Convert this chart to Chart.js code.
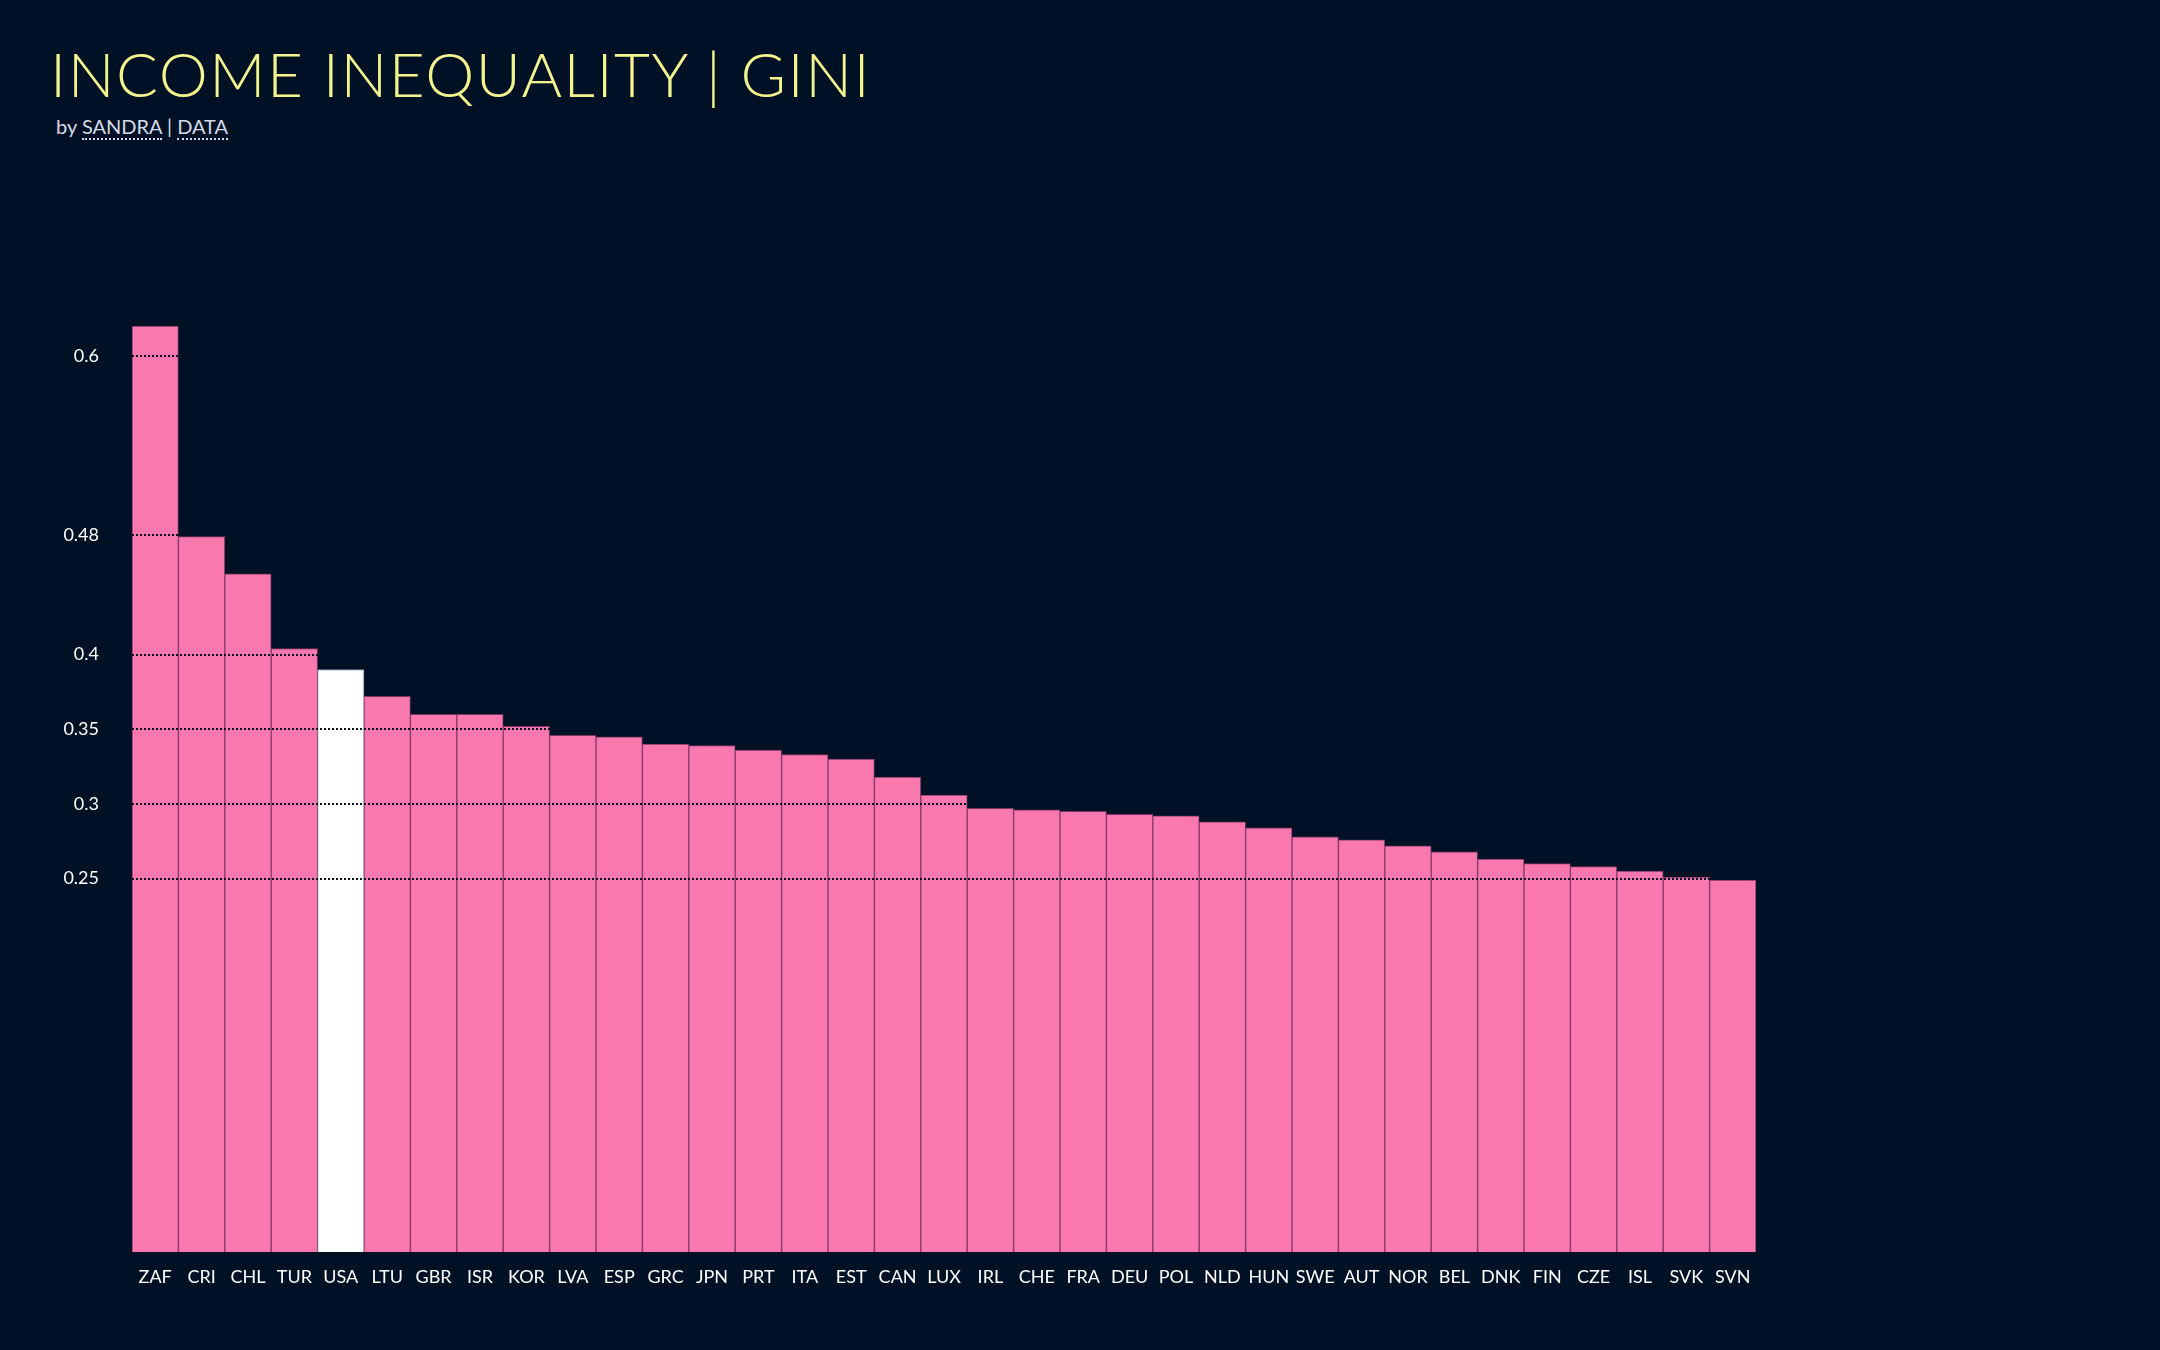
<!DOCTYPE html>
<html>
<head>
<meta charset="utf-8">
<script src="https://cdn.jsdelivr.net/npm/chart.js@4"></script>
<style>
    html, body { margin: 0; padding: 0; background: #001126; }
    body { width: 2160px; height: 1350px; position: relative; overflow: hidden; font-family: Lato, "Open Sans", sans-serif; }
    #titulo { position: absolute; left: 50px; top: 36px; margin: 0; color: #f4f48e; font-size: 62px; font-weight: 300; letter-spacing: 1.5px; white-space: nowrap; }
    #subtitulo { position: absolute; left: 56px; top: 114px; color: #d5dae6; font-size: 20px; white-space: nowrap; }
    #subtitulo span { border-bottom: 2px dotted #d5dae6; }
    #contenedor { position: absolute; left: 0; top: 0; width: 2160px; height: 1350px; }
</style>
</head>
<body>
<h1 id="titulo">INCOME INEQUALITY | GINI</h1>
<div id="subtitulo">by <span>SANDRA</span> | <span>DATA</span></div>
<div id="contenedor"><canvas id="giniChart"></canvas></div>

<script>
// Datos
const paises = ['ZAF', 'CRI', 'CHL', 'TUR', 'USA', 'LTU', 'GBR', 'ISR', 'KOR', 'LVA', 'ESP', 'GRC',
    'JPN', 'PRT', 'ITA', 'EST', 'CAN', 'LUX', 'IRL', 'CHE', 'FRA', 'DEU', 'POL', 'NLD', 'HUN',
    'SWE', 'AUT', 'NOR', 'BEL', 'DNK', 'FIN', 'CZE', 'ISL', 'SVK', 'SVN'];
const gini = [0.62, 0.479, 0.454, 0.404, 0.390, 0.372, 0.360, 0.360, 0.352, 0.346, 0.345, 0.340,
    0.339, 0.336, 0.333, 0.330, 0.318, 0.306, 0.297, 0.296, 0.295, 0.293, 0.292, 0.288, 0.284,
    0.278, 0.276, 0.272, 0.268, 0.263, 0.260, 0.258, 0.255, 0.251, 0.249];
const ticksY = [0.25, 0.3, 0.35, 0.4, 0.48, 0.6];
const destacado = 'USA';

const rosa = '#f979ae';
const fondo = '#001126';

const colores = paises.map(p => p === destacado ? '#ffffff' : rosa);
const bordes = paises.map(p => p === destacado ? 'rgba(150,160,175,0.9)' : 'rgba(190,75,130,0.65)');

const ctx = document.getElementById('giniChart').getContext('2d');

window.myChart = new Chart(ctx, {
    type: 'bar',
    data: {
        labels: paises,
        datasets: [{
            label: 'Gini',
            data: gini,
            backgroundColor: colores,
            borderColor: bordes,
            borderWidth: 1,
            barPercentage: 1,
            categoryPercentage: 1
        }]
    },
    options: {
        responsive: true,
        maintainAspectRatio: false,
        animation: false,
        layout: {
            padding: { top: 326, right: 404, bottom: 48, left: 0 }
        },
        plugins: {
            legend: { display: false },
            tooltip: { enabled: false }
        },
        scales: {
            x: {
                grid: { display: false, drawTicks: false },
                border: { display: false },
                ticks: {
                    color: '#ffffff',
                    padding: 14,
                    maxRotation: 0,
                    autoSkip: false,
                    font: { family: 'Lato', size: 18 }
                },
                afterFit: (scale) => { scale.height = 50; }
            },
            y: {
                min: 0,
                max: 0.62,
                grid: {
                    color: fondo,
                    lineWidth: 2,
                    drawTicks: false,
                    z: 1 // la rejilla va encima de las barras
                },
                border: { display: false, dash: [2, 2] },
                ticks: {
                    color: '#ffffff',
                    padding: 33,
                    font: { family: 'Lato', size: 18 },
                    callback: (v) => String(v)
                },
                afterBuildTicks: (scale) => {
                    scale.ticks = ticksY.map(v => ({ value: v }));
                },
                afterFit: (scale) => { scale.width = 132; }
            }
        }
    }
});
</script>
</body>
</html>
